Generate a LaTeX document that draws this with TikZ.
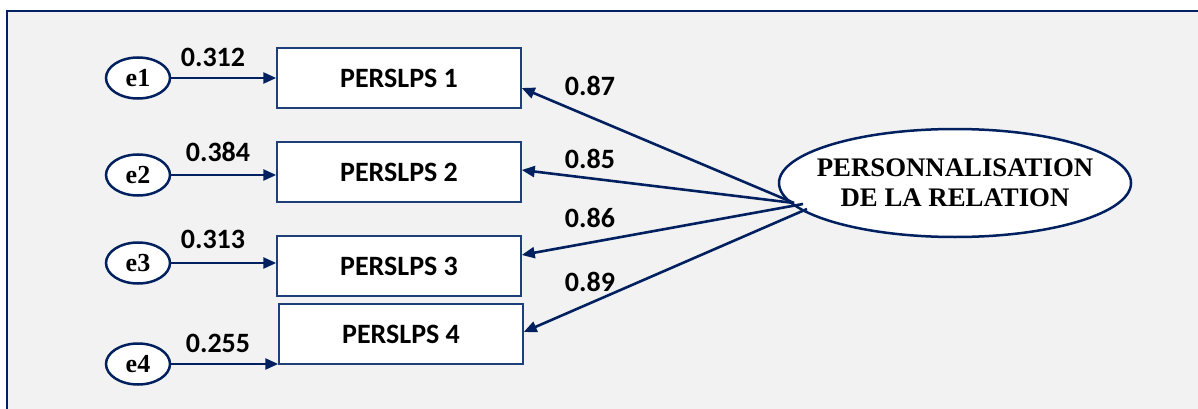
\documentclass[tikz,border=0pt]{standalone}
\usepackage{fontspec}
\usetikzlibrary{arrows.meta,shapes.geometric}
\newfontfamily\calib{Carlito}
\newfontfamily\tnr{Liberation Serif}
\definecolor{navy}{HTML}{002060}
\definecolor{boxblue}{HTML}{1F3F7A}
\definecolor{bggray}{HTML}{F2F2F2}
\tikzset{
  obs/.style={draw=boxblue, line width=1.5pt, fill=white, rectangle, minimum width=244pt, minimum height=60pt, font=\calib\bfseries\fontsize{28}{30}\selectfont},
  err/.style={draw=navy, line width=2.5pt, fill=white, ellipse, minimum width=64pt, minimum height=41pt, inner sep=0pt, font=\tnr\bfseries\fontsize{26}{28}\selectfont},
  lat/.style={draw=navy, line width=2.5pt, fill=white, ellipse, minimum width=352pt, minimum height=108pt, inner xsep=-40pt, inner ysep=-10pt, align=center, font=\tnr\bfseries\fontsize{26.8}{30}\selectfont},
  conn/.style={draw=navy, line width=2.6pt, -{Triangle[length=13pt,width=11pt]}},
  val/.style={font=\calib\bfseries\fontsize{28}{30}\selectfont, inner sep=0pt}
}
\begin{document}
\begin{tikzpicture}[x=1pt,y=-1pt]
\useasboundingbox (0,0) rectangle (1198,409);
\fill[bggray] (7,11) rectangle (1198,409);
\draw[navy, line width=2.5pt] (7,409) -- (7,11) -- (1198,11);

\node[obs] (b1) at (399,78) {PERSLPS 1};
\node[obs] (b2) at (399,172) {PERSLPS 2};
\node[obs] (b3) at (399,266) {PERSLPS 3};
\node[obs] (b4) at (401,334) {PERSLPS 4};

\node[err] (e1) at (138,78) {e1};
\node[err] (e2) at (138,175) {e2};
\node[err] (e3) at (138,263) {e3};
\node[err] (e4) at (138,364) {e4};

\draw[conn] (e1.east) -- (e1.east -| b1.west);
\draw[conn] (e2.east) -- (e2.east -| b2.west);
\draw[conn] (e3.east) -- (e3.east -| b3.west);
\draw[conn] (e4.east) -- (e4.east -| b4.west);

\node[lat] (L) at (955,183) {PERSONNALISATION\\DE LA RELATION};

\coordinate (o1) at (794,203);
\coordinate (o2) at (794,203);
\coordinate (o3) at (803,204);
\coordinate (o4) at (807,209);
\coordinate (t1) at (b1.east |- 0,88);
\coordinate (t2) at (b2.east |- 0,170);
\coordinate (t3) at (b3.east |- 0,255);
\coordinate (t4) at (b4.east |- 0,332);
\draw[conn] (o1) -- (t1);
\draw[conn] (o2) -- (t2);
\draw[conn] (o3) -- (t3);
\draw[conn] (o4) -- (t4);

\node[val] (v1) at (213,57) {0.312};
\node[val] (v2) at (218,152) {0.384};
\node[val] (v3) at (213,239) {0.313};
\node[val] (v4) at (218,343) {0.255};
\node[val] (w1) at (590,86) {0.87};
\node[val] (w2) at (590,159) {0.85};
\node[val] (w3) at (590,218) {0.86};
\node[val] (w4) at (590,282) {0.89};
\end{tikzpicture}
\end{document}
